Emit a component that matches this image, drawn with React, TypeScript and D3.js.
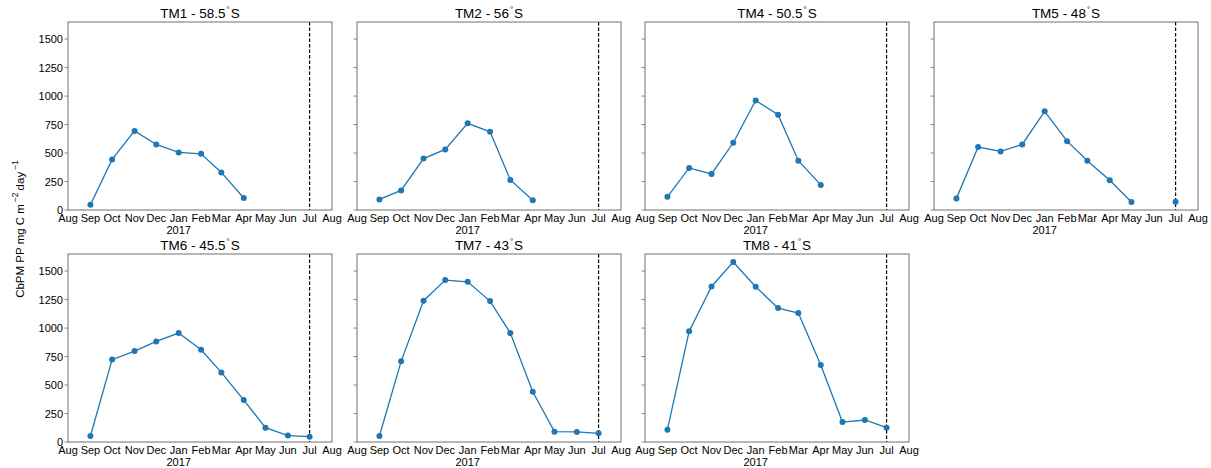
import React from "react";
import * as d3 from "d3";

const MONTHS = ["2016-09-01","2016-10-01","2016-11-01","2016-12-01","2017-01-01","2017-02-01","2017-03-01","2017-04-01","2017-05-01","2017-06-01","2017-07-01"];
const TICK_MONTHS = ["Aug","Sep","Oct","Nov","Dec","Jan","Feb","Mar","Apr","May","Jun","Jul","Aug"];
const Y_TICKS = [0, 250, 500, 750, 1000, 1250, 1500];

const PANEL_NAMES = ["TM1","TM2","TM4","TM5","TM6","TM7","TM8"];
const PANEL_LATS = ["58.5","56","50.5","48","45.5","43","41"];

const TM1 = [46,444,694,575,505,493,330,105,null,null,null];
const TM2 = [93,172,451,532,761,686,264,85,null,null,null];
const TM4 = [116,369,316,590,962,837,433,220,null,null,null];
const TM5 = [102,552,514,575,866,604,433,261,70,null,72];
const TM6 = [53,723,798,883,956,810,611,368,126,56,47];
const TM7 = [53,708,1240,1421,1406,1237,956,441,91,88,76];
const TM8 = [108,971,1365,1579,1363,1175,1132,675,175,193,126];
const SERIES = [TM1, TM2, TM4, TM5, TM6, TM7, TM8];

const W = 1211, H = 468;
const PW = 264, PH = 188;
const LEFTS = [68, 357, 645, 934];
const TOPS = [22, 254];
const FONT = "'Liberation Sans', Arial, Helvetica, sans-serif";
const BLUE = "#1f77b4";
const SPINE = "#707070";

const parse = d3.timeParse("%Y-%m-%d");
const X0 = parse("2016-08-01") as Date;
const X1 = parse("2017-08-01") as Date;
const DASH_DATE = parse("2017-07-01") as Date;

function Panel({ idx }: { idx: number }) {
  const col = idx % 4;
  const row = Math.floor(idx / 4);
  const left = LEFTS[col];
  const top = TOPS[row];
  const x = d3.scaleTime().domain([X0, X1]).range([0, PW]);
  const y = d3.scaleLinear().domain([0, 1650]).range([PH, 0]);
  const data = MONTHS.map((m, i) => ({ d: parse(m) as Date, v: SERIES[idx][i] }));
  const line = d3
    .line<{ d: Date; v: number | null }>()
    .defined((p) => p.v != null)
    .x((p) => x(p.d))
    .y((p) => y(p.v as number));
  const ticks = d3.timeMonth.range(X0, d3.timeDay.offset(X1, 1));
  return (
    <g transform={`translate(${left},${top})`}>
      <text x={PW / 2} y={-4} textAnchor="middle" fontSize={13.5} fontFamily={FONT} fill="#000">
        {`${PANEL_NAMES[idx]} - ${PANEL_LATS[idx]}`}
        <tspan fontSize={8} dy={-6} dx={1}>°</tspan>
        <tspan dy={6} dx={1}>S</tspan>
      </text>
      {/* dashed line */}
      <line x1={x(DASH_DATE)} x2={x(DASH_DATE)} y1={0} y2={PH} stroke="#000" strokeWidth={1.2} strokeDasharray="3.5,2" />
      <path d={line(data) || ""} fill="none" stroke={BLUE} strokeWidth={1.3} />
      {data.filter((p) => p.v != null).map((p, i) => (
        <circle key={i} cx={x(p.d)} cy={y(p.v as number)} r={3} fill={BLUE} />
      ))}
      <rect x={0} y={0} width={PW} height={PH} fill="none" stroke={SPINE} strokeWidth={1} />
      {Y_TICKS.map((t) => (
        <g key={t}>
          <line x1={-3.5} x2={0} y1={y(t)} y2={y(t)} stroke={SPINE} strokeWidth={0.8} />
          {col === 0 && (
            <text x={-5} y={y(t) + 4} textAnchor="end" fontSize={11} fontFamily={FONT} fill="#000">
              {t}
            </text>
          )}
        </g>
      ))}
      {ticks.map((t, i) => (
        <text key={i} x={x(t)} y={PH + 12} textAnchor="middle" fontSize={11} fontFamily={FONT} fill="#000">
          {TICK_MONTHS[i]}
        </text>
      ))}
      <text x={x(parse("2017-01-01") as Date)} y={PH + 24} textAnchor="middle" fontSize={11} fontFamily={FONT} fill="#000">
        2017
      </text>
    </g>
  );
}

export default function App() {
  return (
    <svg width={W} height={H} style={{ position: "absolute", left: 0, top: 0, background: "#fff" }}>
      <rect x={0} y={0} width={W} height={H} fill="#fff" />
      {PANEL_NAMES.map((_, i) => (
        <Panel key={i} idx={i} />
      ))}
      <text transform="translate(24,229) rotate(-90)" textAnchor="middle" fontSize={11.5} fontFamily={FONT} fill="#000">
        CbPM PP mg C m
        <tspan fontSize={8.5} dy={-6} dx={2}>−2</tspan>
        <tspan dy={6} dx={2}>day</tspan>
        <tspan fontSize={8.5} dy={-6} dx={2}>−1</tspan>
      </text>
    </svg>
  );
}
